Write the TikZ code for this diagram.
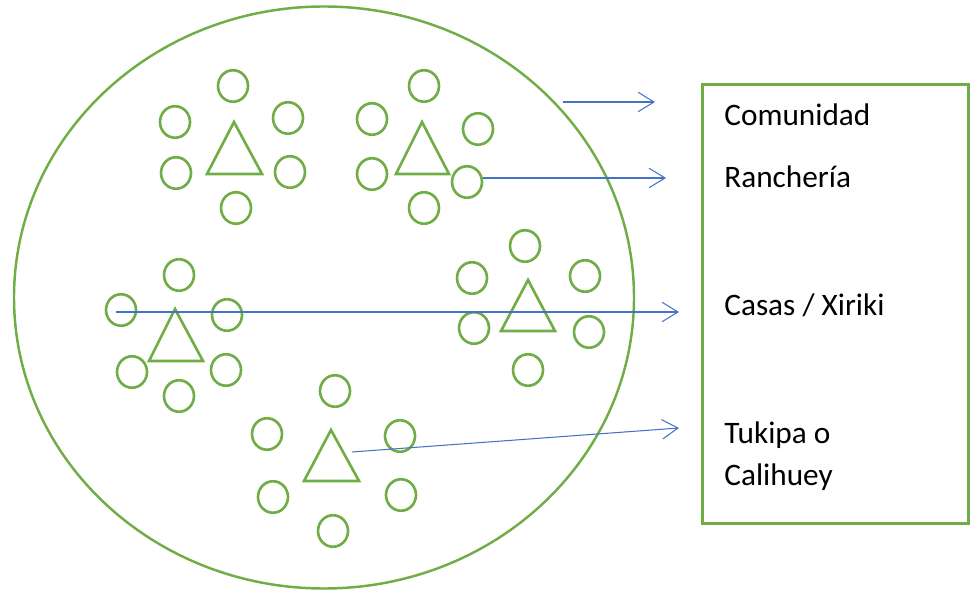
\documentclass[tikz,border=0pt]{standalone}
\usepackage{fontspec}
\setmainfont{Carlito}
\usepackage{tikz}
\usetikzlibrary{shapes.geometric, arrows.meta}
\definecolor{verde}{RGB}{112,173,71}
\definecolor{azul}{RGB}{68,114,196}

\begin{document}
\begin{tikzpicture}[x=0.02cm, y=-0.02cm,
		casa/.style={draw=verde, line width=1.5pt, ellipse, minimum width=0.6cm, minimum height=0.63cm, inner sep=0pt},
		tukipa/.style={draw=verde, line width=1.5pt},
		flecha/.style={draw=azul, line width=0.6pt, -{Straight Barb[length=9pt, width=11pt]}},
		etiqueta/.style={anchor=base west, inner sep=0pt, font=\fontsize{17.8}{23.7}\selectfont}]
		\useasboundingbox (0,0) rectangle (972,590);

		% Comunidad
		\draw[verde, line width=1.4pt] (324,297.5) ellipse [x radius=310, y radius=291];

		% Rancheria 1 (arriba izquierda)
		\foreach \n/\x/\y in {1/233/86, 2/175/122, 3/288/118, 4/176/173, 5/290/172, 6/236/208} {
				\node[casa] (c1\n) at (\x,\y) {};
			}
		\draw[tukipa] (234,122) -- (207,174) -- (262,174) -- cycle;

		% Rancheria 2 (arriba derecha)
		\foreach \n/\x/\y in {1/424/86, 2/372/119, 3/478/129, 4/372/174, 5/467/182, 6/424/208} {
				\node[casa] (c2\n) at (\x,\y) {};
			}
		\draw[tukipa] (422,122) -- (396,174) -- (449,174) -- cycle;

		% Rancheria 3 (izquierda)
		\foreach \n/\x/\y in {1/179/275, 2/121/310, 3/227/315, 4/132/372, 5/226/370, 6/179/396} {
				\node[casa] (c3\n) at (\x,\y) {};
			}
		\draw[tukipa] (175,309) -- (149,361) -- (203,361) -- cycle;

		% Rancheria 4 (derecha)
		\foreach \n/\x/\y in {1/525/246, 2/472/278, 3/585/276, 4/474/328, 5/589/332, 6/528/370} {
				\node[casa] (c4\n) at (\x,\y) {};
			}
		\draw[tukipa] (528,280) -- (501,331) -- (555,331) -- cycle;

		% Rancheria 5 (abajo)
		\foreach \n/\x/\y in {1/335/391, 2/267/434, 3/400/436, 4/273/497, 5/401/495, 6/333/531} {
				\node[casa] (c5\n) at (\x,\y) {};
			}
		\draw[tukipa] (331,430) -- (304,481) -- (359,481) -- cycle;
		\coordinate (t5) at (352,452);

		% Recuadro con los nombres
		\node[draw=verde, line width=1.5pt, minimum width=5.32cm, minimum height=8.78cm, inner sep=0pt] (caja) at (835.3,303.8) {};
		\node[etiqueta] (comunidad) at (724,126) {Comunidad};
		\node[etiqueta] (rancheria) at (724,188) {Ranchería};
		\node[etiqueta] (casas) at (724,316) {Casas / Xiriki};
		\node[etiqueta] (tukipa) at (724,443) {Tukipa o};
		\node[etiqueta] (calihuey) at (724,485) {Calihuey};

		% Flechas
		\coordinate (a1) at (563,102);
		\coordinate (b1) at (655,102);
		\coordinate (b2) at (666,178);
		\coordinate (a3) at (116,312);
		\coordinate (b3) at (679,312);
		\coordinate (b4) at (679,428);
		\draw[flecha] (a1) -- (b1);
		\draw[flecha] (c25.east |- b2) -- (b2);
		\draw[flecha] (a3) -- (b3);
		\draw[flecha] (t5) -- (b4);
	\end{tikzpicture}
\end{document}
